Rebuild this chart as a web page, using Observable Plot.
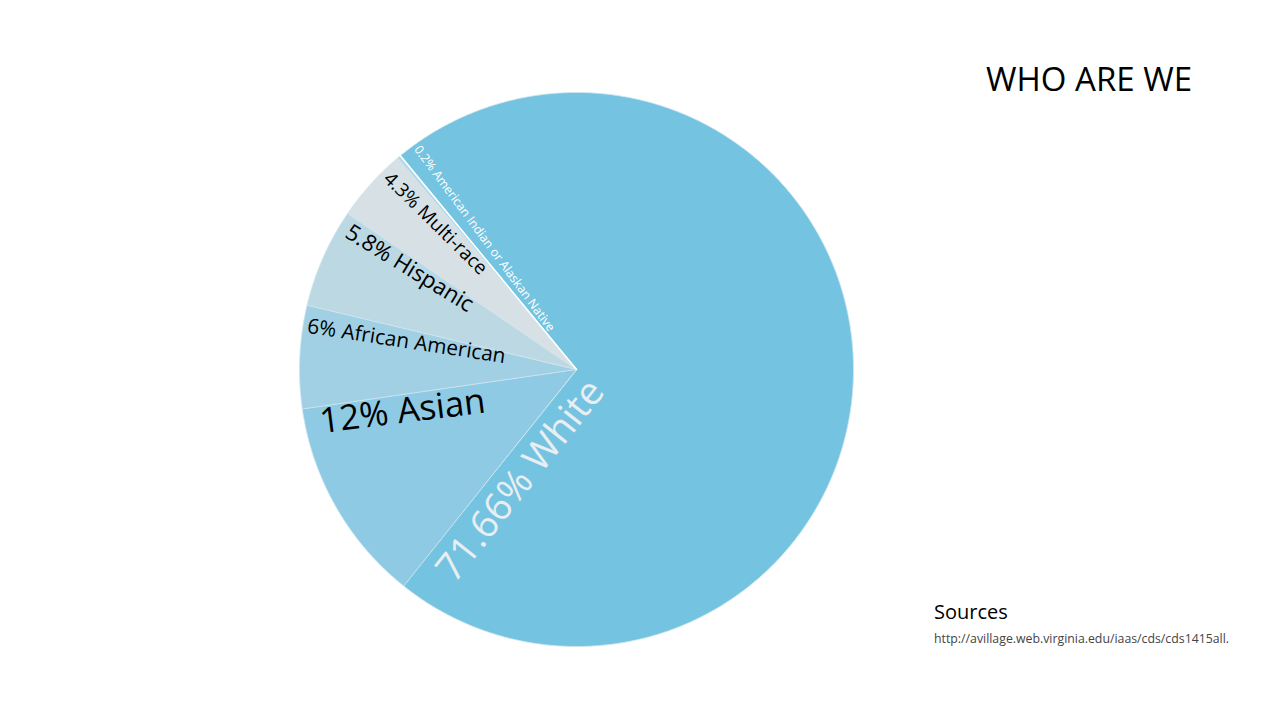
<!DOCTYPE html>
<html><head><meta charset="utf-8">
<script src="https://cdn.jsdelivr.net/npm/d3@7"></script>
<script src="https://cdn.jsdelivr.net/npm/@observablehq/plot@0.6"></script>
<style>
body{margin:0;background:#fff;}
#wrap{position:relative;width:1280px;height:720px;overflow:hidden;font-family:"Open Sans",sans-serif;}
#chart{position:absolute;left:0;top:0;}
.title{position:absolute;right:88px;top:62px;font-size:33px;line-height:1;color:#000;white-space:nowrap;}
.srch{position:absolute;left:934px;top:602px;font-size:20px;line-height:1;color:#000;}
.src{position:absolute;left:934px;top:633px;font-size:12.3px;line-height:1;color:#444;white-space:nowrap;}
</style></head><body>
<div id="wrap">
<div id="chart"></div>
<div class="title">WHO ARE WE</div>
<div class="srch">Sources</div>
<div class="src">http://avillage.web.virginia.edu/iaas/cds/cds1415all.</div>
</div>
<script>
// ---- data ----
const categories = ["White", "Asian", "African American", "Hispanic", "Multi-race", "American Indian or Alaskan Native"];
const shares = [71.66, 12, 6, 5.8, 4.3, 0.2];
const labels = ["71.66% White", "12% Asian", "6% African American", "5.8% Hispanic", "4.3% Multi-race", "0.2% American Indian or Alaskan Native"];
const colors = ["#74c3e1", "#8ecae3", "#a1d0e4", "#bcd9e3", "#d7e0e5", "#b3d8e7"];

// ---- label styling (angle: compass degrees, r: fraction of radius) ----
const labelStyle = {
  "White": {angle: 206.8, r: 0.449, rotate: -51.7, size: 38.5, color: "#e8eef1"},
  "Asian": {angle: 256.4, r: 0.646, rotate: -7.2, size: 35, color: "#000"},
  "African American": {angle: 279.4, r: 0.622, rotate: 8.7, size: 20.8, color: "#000"},
  "Hispanic": {angle: 301.2, r: 0.705, rotate: 31.5, size: 22.5, color: "#000"},
  "Multi-race": {angle: 316, r: 0.733, rotate: 44.5, size: 19, color: "#000"},
  "American Indian or Alaskan Native": {angle: 324.9, r: 0.578, rotate: 53.5, size: 12.3, color: "#fff"}
};
const startAngle = -39.5;

const deg = Math.PI / 180;
const pt = (a, r) => [r * Math.sin(a), -r * Math.cos(a)];
const data = categories.map((c, i) => ({category: c, share: shares[i], label: labels[i], color: colors[i]}));
const arcs = d3.pie().value(d => d.share).sort(null)
  .startAngle(startAngle * deg).endAngle((startAngle + 360) * deg)(data);

const features = arcs.map(a => {
  const n = Math.max(2, Math.ceil((a.endAngle - a.startAngle) / deg * 2));
  const ring = [[0, 0]];
  for (let k = 0; k <= n; k++) ring.push(pt(a.startAngle + (a.endAngle - a.startAngle) * k / n, 1));
  ring.push([0, 0]);
  return {type: "Feature", properties: a.data, geometry: {type: "Polygon", coordinates: [ring]}};
});

const labelData = data.map(d => {
  const s = labelStyle[d.category];
  const [x, y] = pt(s.angle * deg, s.r);
  return {...d, x, y, rotate: s.rotate, size: s.size, tcolor: s.color};
});

const boundary = {type: "LineString", coordinates: [[0, 0], pt(startAngle * deg, 1)]};

const chart = Plot.plot({
  width: 1280,
  height: 720,
  marginLeft: 299,
  marginRight: 427,
  marginTop: 92,
  marginBottom: 74,
  projection: {type: "identity", domain: {type: "MultiPoint", coordinates: [[-1, -1], [1, 1]]}},
  color: {type: "identity"},
  style: {background: "transparent", fontFamily: "Open Sans"},
  marks: [
    Plot.geo(features, {fill: d => d.properties.color, stroke: "#cfe6ef", strokeWidth: 0.8}),
    Plot.geo([boundary], {stroke: "#ffffff", strokeWidth: 1.6}),
    Plot.text(labelData, {x: "x", y: "y", text: "label", rotate: "rotate", fontSize: "size",
      fill: "tcolor", fontFamily: "Open Sans", textAnchor: "middle"})
  ]
});
document.getElementById("chart").appendChild(chart);
</script>
</body></html>
